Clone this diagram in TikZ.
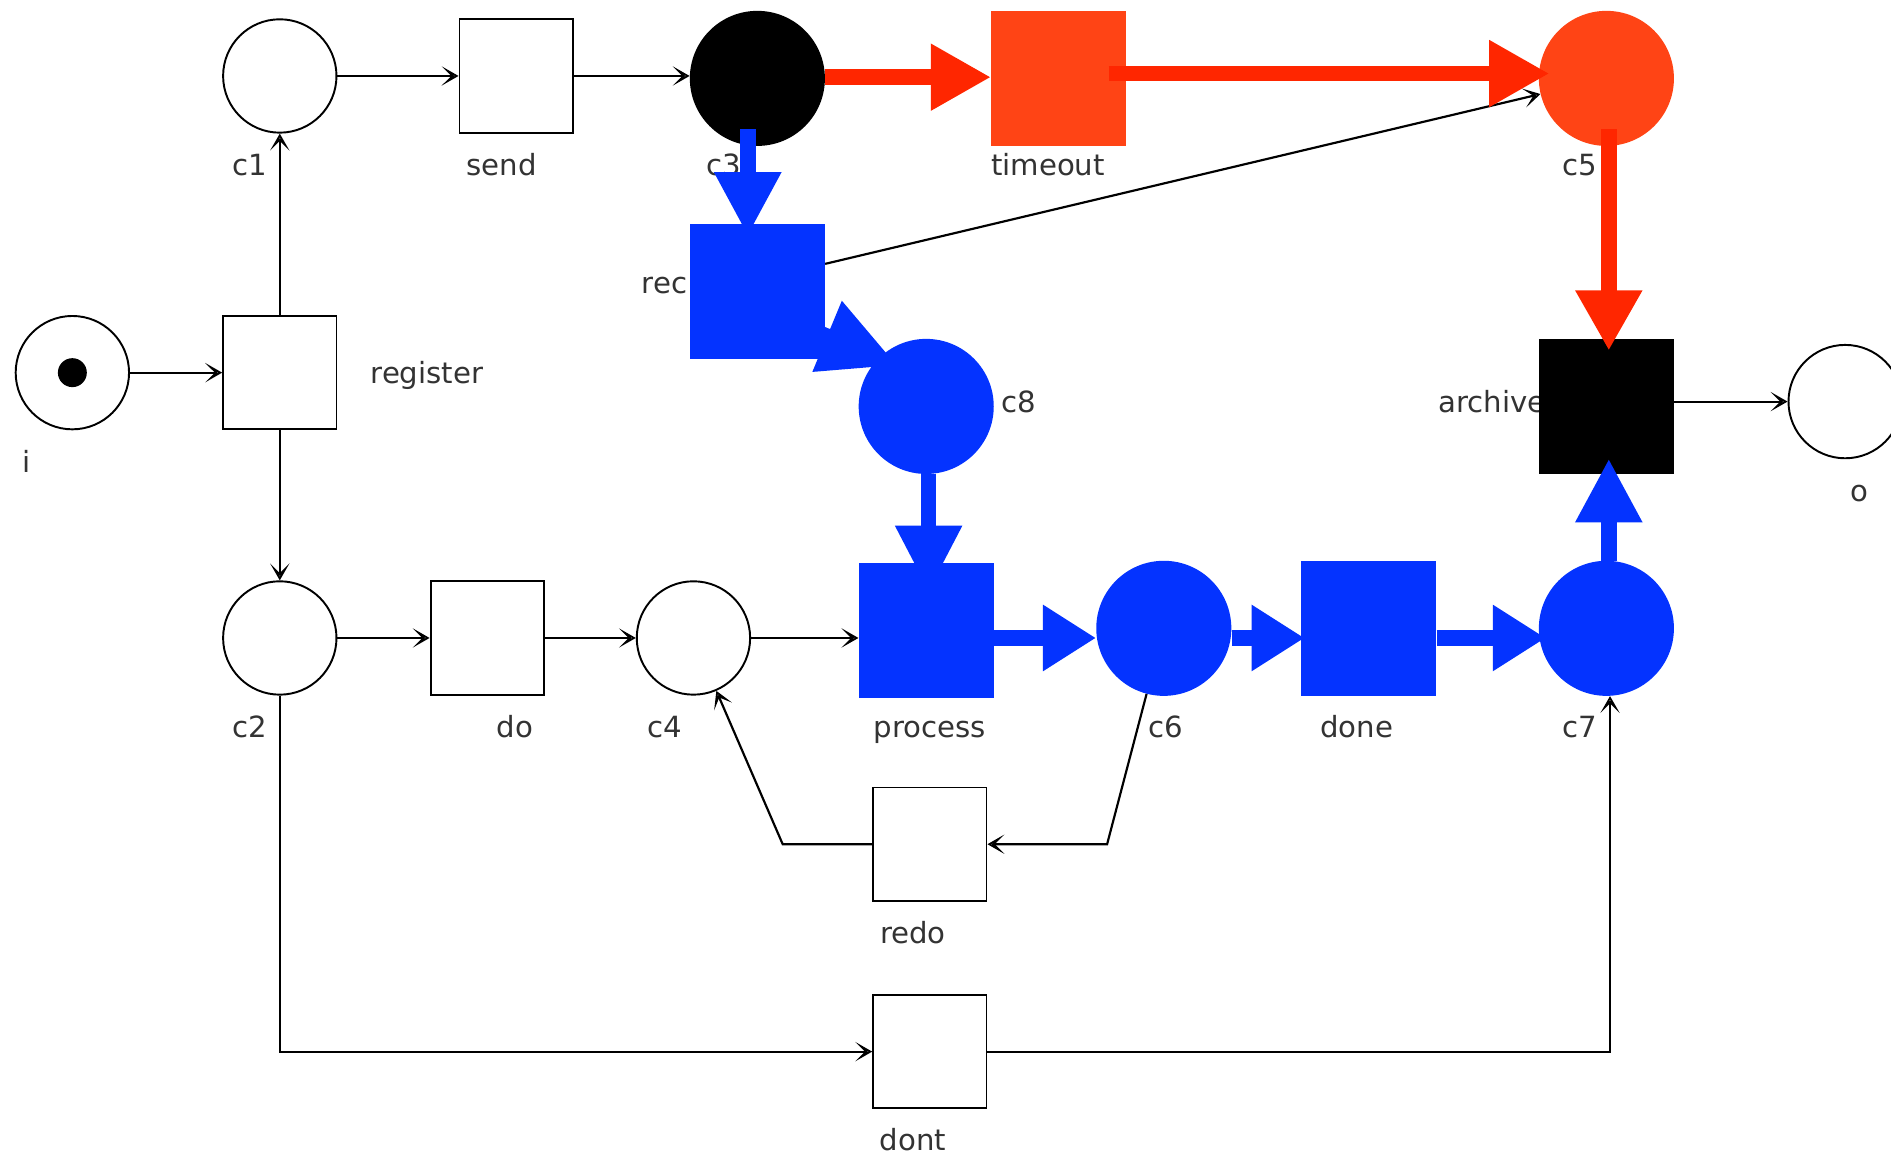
\documentclass[tikz,border=0pt]{standalone}
\usepackage{fontspec}
\setmainfont{DejaVu Sans}
\usetikzlibrary{arrows.meta}
\definecolor{pblue}{RGB}{4,51,255}
\definecolor{porange}{RGB}{255,68,21}
\definecolor{pred}{RGB}{255,38,0}
\begin{document}
\begin{tikzpicture}[x=1pt,y=-1pt,
 place/.style={circle,draw=black,line width=1.6pt,minimum size=94pt,inner sep=0pt,fill=white},
 trans/.style={rectangle,draw=black,line width=1.6pt,minimum size=94pt,inner sep=0pt,fill=white},
 bigplace/.style={circle,minimum size=112pt,inner sep=0pt},
 bigtrans/.style={rectangle,minimum size=112pt,inner sep=0pt},
 lab/.style={font=\fontsize{24.2}{28}\selectfont,text=black!80,inner sep=0pt,anchor=mid},
 arc/.style={draw=black,line width=1.8pt,-{Stealth[open,length=14pt,width=16pt,inset=8pt,line width=1.8pt]}},
 redarc/.style={draw=pred,line width=13pt,-{Triangle[length=50pt,width=52pt]}},
 bluearc/.style={draw=pblue,line width=13pt,-{Triangle[length=44pt,width=52pt]}},
 bluevarc/.style={draw=pblue,line width=13pt,-{Triangle[length=53pt,width=52pt]}},
]
\useasboundingbox (0,0) rectangle (1568,960);
% labels
\node[lab] (l-i) at (22,389) {i};
\node[lab] (l-register) at (354,315) {register};
\node[lab] (l-c1) at (207,143) {c1};
\node[lab] (l-send) at (416,143) {send};
\node[lab] (l-c3) at (600,143) {c3};
\node[lab] (l-timeout) at (869,143) {timeout};
\node[lab] (l-c5) at (1310,143) {c5};
\node[lab] (l-rec) at (551,241) {rec};
\node[lab] (l-c8) at (845,339) {c8};
\node[lab] (l-archive) at (1237,339) {archive};
\node[lab] (l-o) at (1542,413) {o};
\node[lab] (l-c2) at (207,609) {c2};
\node[lab] (l-do) at (427,609) {do};
\node[lab] (l-c4) at (551,609) {c4};
\node[lab] (l-process) at (771,609) {process};
\node[lab] (l-c6) at (967,609) {c6};
\node[lab] (l-done) at (1125,609) {done};
\node[lab] (l-c7) at (1310,609) {c7};
\node[lab] (l-redo) at (757,780) {redo};
\node[lab] (l-dont) at (757,951) {dont};
% places and transitions
\node[place] (i) at (60,309) {};
\node[circle,fill=black,minimum size=24pt,inner sep=0pt] (tok) at (i.center) {};
\node[trans] (register) at (232,309) {};
\node[place] (c1) at (232,63) {};
\node[trans] (send) at (428,63) {};
\node[bigplace,fill=black] (c3) at (628,65) {};
\node[bigtrans,fill=porange] (timeout) at (878,65) {};
\node[bigplace,fill=porange] (c5) at (1332,65) {};
\node[bigtrans,fill=pblue] (rec) at (628,242) {};
\node[bigplace,fill=pblue] (c8) at (768,337) {};
\node[bigtrans,fill=black] (archive) at (1332,337) {};
\node[place] (o) at (1530,333) {};
\node[place] (c2) at (232,529) {};
\node[trans] (do) at (404,529) {};
\node[place] (c4) at (575,529) {};
\node[bigtrans,fill=pblue] (process) at (768,523) {};
\node[bigplace,fill=pblue] (c6) at (965,521) {};
\node[bigtrans,fill=pblue] (done) at (1135,521) {};
\node[bigplace,fill=pblue] (c7) at (1332,521) {};
\node[trans] (redo) at (771,700) {};
\node[trans] (dont) at (771,872) {};
\coordinate (k1) at (918,700);
\coordinate (k2) at (649,700);
% thin arcs
\draw[arc] (i) -- (register);
\draw[arc] (register) -- (c1);
\draw[arc] (register) -- (c2);
\draw[arc] (c1) -- (send);
\draw[arc] (send.east) -- (send.east -| c3.west);
\draw[arc] ([yshift=-33pt]rec.north east) -- (c5);
\draw[arc] ([yshift=4pt]archive.east) -- (o.west);
\draw[arc] (c2) -- (do);
\draw[arc] (do) -- (c4);
\draw[arc] (c4.east) -- (c4.east -| process.west);
\draw[arc] (c6) -- (k1) -- (redo);
\draw[arc] (redo) -- (k2) -- (c4);
\draw[arc] (c2) |- (dont);
\draw[arc] (dont) -| ([xshift=3pt]c7.south);
% highlighted arcs
\draw[redarc] ([yshift=1pt]c3.east) -- ([yshift=1pt]timeout.west);
\draw[redarc] ([xshift=-15pt,yshift=4pt]timeout.east) -- ([xshift=9pt,yshift=4pt]c5.west);
\draw[redarc] ([xshift=2pt,yshift=14pt]c5.south) -- ([xshift=2pt,yshift=-10pt]archive.north);
\draw[bluevarc] ([xshift=-8pt,yshift=14pt]c3.south) -- ([xshift=-8pt,yshift=-10pt]rec.north);
\draw[draw=pblue,line width=13pt,-{Triangle[length=63pt,width=60pt]}] ([xshift=5pt,yshift=-15pt]rec.center) -- ([xshift=-24pt,yshift=34pt]c8.center);
\draw[draw=pblue,line width=13pt,-{Triangle[length=55pt,width=52pt]}] ([xshift=2pt]c8.south) -- ([xshift=2pt,yshift=-24pt]process.north);
\draw[bluearc] ([yshift=-6pt]process.east) -- ([yshift=-8pt]c6.west);
\draw[bluearc] ([yshift=-8pt]c6.east) -- ([xshift=3pt,yshift=-8pt]done.west);
\draw[bluearc] ([yshift=-8pt]done.east) -- ([xshift=6pt,yshift=-8pt]c7.west);
\draw[bluevarc] ([xshift=2pt]c7.north) -- ([xshift=2pt,yshift=13pt]archive.south);
\end{tikzpicture}
\end{document}
